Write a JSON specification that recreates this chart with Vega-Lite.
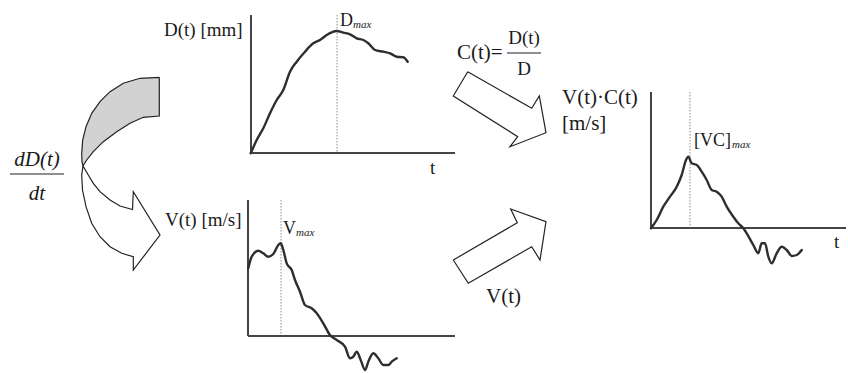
{
  "$schema": "https://vega.github.io/schema/vega-lite/v6.json",
  "width": 848,
  "height": 373,
  "autosize": {"type": "fit", "contains": "padding"},
  "padding": 0,
  "background": "#ffffff",
  "config": {"view": {"stroke": null}},
  "datasets": {
    "curves": [
      {"curve": "D", "i": 0, "x": 250.7, "y": 153.3},
      {"curve": "D", "i": 1, "x": 256.7, "y": 140},
      {"curve": "D", "i": 2, "x": 263.3, "y": 128.3},
      {"curve": "D", "i": 3, "x": 270, "y": 113.3},
      {"curve": "D", "i": 4, "x": 276.7, "y": 100},
      {"curve": "D", "i": 5, "x": 283.3, "y": 90},
      {"curve": "D", "i": 6, "x": 290, "y": 71.7},
      {"curve": "D", "i": 7, "x": 296.7, "y": 61.7},
      {"curve": "D", "i": 8, "x": 305, "y": 51.7},
      {"curve": "D", "i": 9, "x": 313.3, "y": 43.3},
      {"curve": "D", "i": 10, "x": 320, "y": 40},
      {"curve": "D", "i": 11, "x": 326.7, "y": 35},
      {"curve": "D", "i": 12, "x": 331.7, "y": 32.3},
      {"curve": "D", "i": 13, "x": 336.7, "y": 31},
      {"curve": "D", "i": 14, "x": 343.3, "y": 32.7},
      {"curve": "D", "i": 15, "x": 350, "y": 34.3},
      {"curve": "D", "i": 16, "x": 356.7, "y": 38.3},
      {"curve": "D", "i": 17, "x": 363.3, "y": 40},
      {"curve": "D", "i": 18, "x": 368.3, "y": 43.3},
      {"curve": "D", "i": 19, "x": 375, "y": 50},
      {"curve": "D", "i": 20, "x": 383.3, "y": 51.7},
      {"curve": "D", "i": 21, "x": 390, "y": 53.3},
      {"curve": "D", "i": 22, "x": 396.7, "y": 56.7},
      {"curve": "D", "i": 23, "x": 403.3, "y": 57.3},
      {"curve": "D", "i": 24, "x": 407.7, "y": 61.7},

      {"curve": "V", "i": 0, "x": 248.3, "y": 268.3},
      {"curve": "V", "i": 1, "x": 251.7, "y": 256.7},
      {"curve": "V", "i": 2, "x": 258.3, "y": 250.7},
      {"curve": "V", "i": 3, "x": 263.3, "y": 253.3},
      {"curve": "V", "i": 4, "x": 268.3, "y": 256.7},
      {"curve": "V", "i": 5, "x": 273.3, "y": 254},
      {"curve": "V", "i": 6, "x": 278.3, "y": 245},
      {"curve": "V", "i": 7, "x": 280.7, "y": 243.3},
      {"curve": "V", "i": 8, "x": 283.3, "y": 250},
      {"curve": "V", "i": 9, "x": 286.7, "y": 263.3},
      {"curve": "V", "i": 10, "x": 291.7, "y": 270},
      {"curve": "V", "i": 11, "x": 295, "y": 280},
      {"curve": "V", "i": 12, "x": 300, "y": 291.7},
      {"curve": "V", "i": 13, "x": 305, "y": 305},
      {"curve": "V", "i": 14, "x": 311.7, "y": 308.3},
      {"curve": "V", "i": 15, "x": 316.7, "y": 313.3},
      {"curve": "V", "i": 16, "x": 323.3, "y": 323.3},
      {"curve": "V", "i": 17, "x": 330, "y": 335},
      {"curve": "V", "i": 18, "x": 336.7, "y": 340},
      {"curve": "V", "i": 19, "x": 345, "y": 346.7},
      {"curve": "V", "i": 20, "x": 350, "y": 358.3},
      {"curve": "V", "i": 21, "x": 353.3, "y": 356.7},
      {"curve": "V", "i": 22, "x": 356.7, "y": 351.7},
      {"curve": "V", "i": 23, "x": 360.7, "y": 360},
      {"curve": "V", "i": 24, "x": 365, "y": 370},
      {"curve": "V", "i": 25, "x": 368.3, "y": 361.7},
      {"curve": "V", "i": 26, "x": 373.3, "y": 353.3},
      {"curve": "V", "i": 27, "x": 378.3, "y": 358.3},
      {"curve": "V", "i": 28, "x": 383.3, "y": 365},
      {"curve": "V", "i": 29, "x": 388.3, "y": 365},
      {"curve": "V", "i": 30, "x": 391.7, "y": 361.7},
      {"curve": "V", "i": 31, "x": 396.7, "y": 358.3},

      {"curve": "VC", "i": 0, "x": 651, "y": 228.3},
      {"curve": "VC", "i": 1, "x": 656.7, "y": 220},
      {"curve": "VC", "i": 2, "x": 663.3, "y": 206.7},
      {"curve": "VC", "i": 3, "x": 670, "y": 196.7},
      {"curve": "VC", "i": 4, "x": 676.7, "y": 186.7},
      {"curve": "VC", "i": 5, "x": 681.7, "y": 175},
      {"curve": "VC", "i": 6, "x": 686, "y": 160},
      {"curve": "VC", "i": 7, "x": 688.3, "y": 156.7},
      {"curve": "VC", "i": 8, "x": 691.7, "y": 163.3},
      {"curve": "VC", "i": 9, "x": 696.7, "y": 165},
      {"curve": "VC", "i": 10, "x": 701.7, "y": 171.7},
      {"curve": "VC", "i": 11, "x": 706.7, "y": 180},
      {"curve": "VC", "i": 12, "x": 711.7, "y": 190},
      {"curve": "VC", "i": 13, "x": 716.7, "y": 191.7},
      {"curve": "VC", "i": 14, "x": 721.7, "y": 196.7},
      {"curve": "VC", "i": 15, "x": 726.7, "y": 206.7},
      {"curve": "VC", "i": 16, "x": 733.3, "y": 216.7},
      {"curve": "VC", "i": 17, "x": 738.3, "y": 223.3},
      {"curve": "VC", "i": 18, "x": 743.3, "y": 228.3},
      {"curve": "VC", "i": 19, "x": 746.7, "y": 233.3},
      {"curve": "VC", "i": 20, "x": 753.3, "y": 245},
      {"curve": "VC", "i": 21, "x": 758.3, "y": 253.3},
      {"curve": "VC", "i": 22, "x": 761.7, "y": 243.3},
      {"curve": "VC", "i": 23, "x": 765, "y": 243.3},
      {"curve": "VC", "i": 24, "x": 768.3, "y": 256.7},
      {"curve": "VC", "i": 25, "x": 771.7, "y": 263.3},
      {"curve": "VC", "i": 26, "x": 776.7, "y": 253.3},
      {"curve": "VC", "i": 27, "x": 781.7, "y": 246.7},
      {"curve": "VC", "i": 28, "x": 786.7, "y": 250},
      {"curve": "VC", "i": 29, "x": 791.7, "y": 256},
      {"curve": "VC", "i": 30, "x": 796.7, "y": 255},
      {"curve": "VC", "i": 31, "x": 801.7, "y": 250}
    ],
    "shapes": [
      {"shape": "band_top", "i": 0, "x": 159.3, "y": 77.3},
      {"shape": "band_top", "i": 1, "x": 140, "y": 78.3},
      {"shape": "band_top", "i": 2, "x": 123.3, "y": 83.3},
      {"shape": "band_top", "i": 3, "x": 110, "y": 91.7},
      {"shape": "band_top", "i": 4, "x": 100, "y": 101.7},
      {"shape": "band_top", "i": 5, "x": 91.7, "y": 113.3},
      {"shape": "band_top", "i": 6, "x": 86, "y": 126.7},
      {"shape": "band_top", "i": 7, "x": 82.7, "y": 140},
      {"shape": "band_top", "i": 8, "x": 81.7, "y": 153.3},
      {"shape": "band_top", "i": 9, "x": 82, "y": 162},
      {"shape": "band_top", "i": 10, "x": 83, "y": 166},
      {"shape": "band_top", "i": 11, "x": 86.7, "y": 160},
      {"shape": "band_top", "i": 12, "x": 93.3, "y": 151.7},
      {"shape": "band_top", "i": 13, "x": 103.3, "y": 141.7},
      {"shape": "band_top", "i": 14, "x": 116.7, "y": 131.7},
      {"shape": "band_top", "i": 15, "x": 130, "y": 123.3},
      {"shape": "band_top", "i": 16, "x": 143.3, "y": 117.3},
      {"shape": "band_top", "i": 17, "x": 159.3, "y": 116},
      {"shape": "band_top", "i": 18, "x": 159.3, "y": 77.3},

      {"shape": "band_bottom", "i": 0, "x": 83, "y": 166},
      {"shape": "band_bottom", "i": 1, "x": 81.7, "y": 175},
      {"shape": "band_bottom", "i": 2, "x": 82.5, "y": 190},
      {"shape": "band_bottom", "i": 3, "x": 86, "y": 206.7},
      {"shape": "band_bottom", "i": 4, "x": 91.7, "y": 223.3},
      {"shape": "band_bottom", "i": 5, "x": 100, "y": 236.7},
      {"shape": "band_bottom", "i": 6, "x": 110, "y": 246.7},
      {"shape": "band_bottom", "i": 7, "x": 121.7, "y": 253.3},
      {"shape": "band_bottom", "i": 8, "x": 133.3, "y": 256.7},
      {"shape": "band_bottom", "i": 9, "x": 133.3, "y": 270},
      {"shape": "band_bottom", "i": 10, "x": 160, "y": 235},
      {"shape": "band_bottom", "i": 11, "x": 133.3, "y": 191.7},
      {"shape": "band_bottom", "i": 12, "x": 132.5, "y": 209.5},
      {"shape": "band_bottom", "i": 13, "x": 120, "y": 206},
      {"shape": "band_bottom", "i": 14, "x": 110, "y": 200},
      {"shape": "band_bottom", "i": 15, "x": 100, "y": 191.7},
      {"shape": "band_bottom", "i": 16, "x": 93.3, "y": 183.3},
      {"shape": "band_bottom", "i": 17, "x": 88.3, "y": 175},
      {"shape": "band_bottom", "i": 18, "x": 83, "y": 166},

      {"shape": "arrow_down", "i": 0, "x": 467.7, "y": 71.7},
      {"shape": "arrow_down", "i": 1, "x": 531.7, "y": 108.3},
      {"shape": "arrow_down", "i": 2, "x": 539.3, "y": 96},
      {"shape": "arrow_down", "i": 3, "x": 546, "y": 132.7},
      {"shape": "arrow_down", "i": 4, "x": 510, "y": 146.7},
      {"shape": "arrow_down", "i": 5, "x": 517.7, "y": 136.7},
      {"shape": "arrow_down", "i": 6, "x": 453.3, "y": 96},
      {"shape": "arrow_down", "i": 7, "x": 467.7, "y": 71.7},

      {"shape": "arrow_up", "i": 0, "x": 453.3, "y": 260},
      {"shape": "arrow_up", "i": 1, "x": 517.3, "y": 222.7},
      {"shape": "arrow_up", "i": 2, "x": 510.7, "y": 209},
      {"shape": "arrow_up", "i": 3, "x": 546, "y": 221.7},
      {"shape": "arrow_up", "i": 4, "x": 540, "y": 260},
      {"shape": "arrow_up", "i": 5, "x": 531.7, "y": 246.7},
      {"shape": "arrow_up", "i": 6, "x": 468.3, "y": 283.3},
      {"shape": "arrow_up", "i": 7, "x": 453.3, "y": 260}
    ],
    "rules": [
      {"kind": "axis", "x": 251, "y": 15, "x2": 251, "y2": 153},
      {"kind": "axis", "x": 251, "y": 153, "x2": 455, "y2": 153},
      {"kind": "axis", "x": 248, "y": 200, "x2": 248, "y2": 336},
      {"kind": "axis", "x": 248, "y": 336, "x2": 455, "y2": 336},
      {"kind": "axis", "x": 651, "y": 92, "x2": 651, "y2": 228},
      {"kind": "axis", "x": 651, "y": 228, "x2": 846, "y2": 228},
      {"kind": "guide", "x": 337, "y": 15, "x2": 337, "y2": 153},
      {"kind": "guide", "x": 281, "y": 200, "x2": 281, "y2": 336},
      {"kind": "guide", "x": 690, "y": 92, "x2": 690, "y2": 228},
      {"kind": "bar", "x": 507, "y": 53, "x2": 541, "y2": 53},
      {"kind": "bar", "x": 10, "y": 174, "x2": 64, "y2": 174}
    ],
    "labels": [
      {"kind": "main", "text": "D(t) [mm]", "x": 164, "y": 30},
      {"kind": "main", "text": "V(t) [m/s]", "x": 165, "y": 220},
      {"kind": "main", "text": "t", "x": 430, "y": 168},
      {"kind": "main", "text": "t", "x": 834, "y": 242},
      {"kind": "big", "text": "C(t)=", "x": 457, "y": 53},
      {"kind": "big", "text": "V(t)·C(t)", "x": 562, "y": 98},
      {"kind": "big", "text": "[m/s]", "x": 562, "y": 124},
      {"kind": "big", "text": "V(t)", "x": 486, "y": 297},
      {"kind": "frac", "text": "D(t)", "x": 524, "y": 38},
      {"kind": "frac", "text": "D", "x": 524, "y": 69},
      {"kind": "italic", "text": "dD(t)", "x": 37, "y": 160},
      {"kind": "italic", "text": "dt", "x": 37, "y": 194},
      {"kind": "base", "text": "D", "x": 340, "y": 21},
      {"kind": "base", "text": "V", "x": 283, "y": 229},
      {"kind": "base", "text": "[VC]", "x": 694, "y": 141},
      {"kind": "sub", "text": "max", "x": 353, "y": 25},
      {"kind": "sub", "text": "max", "x": 296, "y": 233},
      {"kind": "sub", "text": "max", "x": 732, "y": 145}
    ]
  },
  "encoding": {
    "x": {"field": "x", "type": "quantitative", "scale": {"domain": [0, 848], "nice": false, "zero": false}, "axis": null},
    "y": {"field": "y", "type": "quantitative", "scale": {"domain": [0, 373], "nice": false, "zero": false, "reverse": true}, "axis": null}
  },
  "layer": [
    {
      "data": {"name": "shapes"},
      "transform": [{"filter": "datum.shape === 'band_top'"}],
      "mark": {"type": "line", "fill": "#d2d2d2", "stroke": "#222222", "strokeWidth": 1.2, "strokeJoin": "miter"},
      "encoding": {"order": {"field": "i", "type": "quantitative"}, "detail": {"field": "shape"}}
    },
    {
      "data": {"name": "shapes"},
      "transform": [{"filter": "datum.shape !== 'band_top'"}],
      "mark": {"type": "line", "fill": "#ffffff", "stroke": "#222222", "strokeWidth": 1.2, "strokeJoin": "miter"},
      "encoding": {"order": {"field": "i", "type": "quantitative"}, "detail": {"field": "shape"}}
    },
    {
      "data": {"name": "rules"},
      "transform": [{"filter": "datum.kind === 'guide'"}],
      "mark": {"type": "rule", "stroke": "#8a8a8a", "strokeWidth": 1, "strokeDash": [1.5, 1.5]},
      "encoding": {"x2": {"field": "x2"}, "y2": {"field": "y2"}}
    },
    {
      "data": {"name": "rules"},
      "transform": [{"filter": "datum.kind === 'axis'"}],
      "mark": {"type": "rule", "stroke": "#444444", "strokeWidth": 2},
      "encoding": {"x2": {"field": "x2"}, "y2": {"field": "y2"}}
    },
    {
      "data": {"name": "rules"},
      "transform": [{"filter": "datum.kind === 'bar'"}],
      "mark": {"type": "rule", "stroke": "#222222", "strokeWidth": 1.2},
      "encoding": {"x2": {"field": "x2"}, "y2": {"field": "y2"}}
    },
    {
      "data": {"name": "curves"},
      "mark": {"type": "line", "stroke": "#2e2e2e", "strokeWidth": 2.4, "interpolate": "monotone", "strokeJoin": "round", "strokeCap": "round"},
      "encoding": {"order": {"field": "i", "type": "quantitative"}, "detail": {"field": "curve"}}
    },
    {
      "data": {"name": "labels"},
      "transform": [{"filter": "datum.kind === 'main'"}],
      "mark": {"type": "text", "font": "Liberation Serif", "fontSize": 19, "align": "left", "baseline": "middle", "fill": "#1a1a1a"},
      "encoding": {"text": {"field": "text"}}
    },
    {
      "data": {"name": "labels"},
      "transform": [{"filter": "datum.kind === 'big'"}],
      "mark": {"type": "text", "font": "Liberation Serif", "fontSize": 21, "align": "left", "baseline": "middle", "fill": "#1a1a1a"},
      "encoding": {"text": {"field": "text"}}
    },
    {
      "data": {"name": "labels"},
      "transform": [{"filter": "datum.kind === 'frac'"}],
      "mark": {"type": "text", "font": "Liberation Serif", "fontSize": 19, "align": "center", "baseline": "middle", "fill": "#1a1a1a"},
      "encoding": {"text": {"field": "text"}}
    },
    {
      "data": {"name": "labels"},
      "transform": [{"filter": "datum.kind === 'italic'"}],
      "mark": {"type": "text", "font": "Liberation Serif", "fontStyle": "italic", "fontSize": 21, "align": "center", "baseline": "middle", "fill": "#1a1a1a"},
      "encoding": {"text": {"field": "text"}}
    },
    {
      "data": {"name": "labels"},
      "transform": [{"filter": "datum.kind === 'base'"}],
      "mark": {"type": "text", "font": "Liberation Serif", "fontSize": 18, "align": "left", "baseline": "middle", "fill": "#1a1a1a"},
      "encoding": {"text": {"field": "text"}}
    },
    {
      "data": {"name": "labels"},
      "transform": [{"filter": "datum.kind === 'sub'"}],
      "mark": {"type": "text", "font": "Liberation Serif", "fontStyle": "italic", "fontSize": 11, "align": "left", "baseline": "middle", "fill": "#1a1a1a"},
      "encoding": {"text": {"field": "text"}}
    }
  ]
}
